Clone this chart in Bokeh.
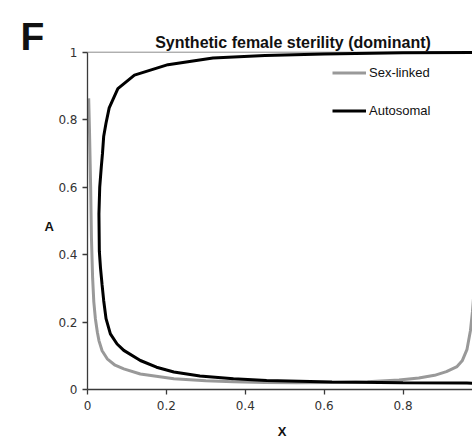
from bokeh.plotting import figure
from bokeh.models import Range1d, FixedTicker, Label, Legend, LegendItem
from bokeh.embed import file_html
from bokeh.resources import INLINE

# ---- data ----
sex_x = [0.003, 0.005, 0.008, 0.010, 0.013, 0.016, 0.020, 0.025, 0.029, 0.037,
         0.050, 0.070, 0.092, 0.134, 0.219, 0.300, 0.370, 0.450, 0.530, 0.620,
         0.710, 0.790, 0.840, 0.880, 0.910, 0.937, 0.950, 0.962, 0.971, 0.976,
         0.980, 0.985, 0.990, 0.994, 0.997, 0.999]
sex_y = [0.863, 0.770, 0.600, 0.450, 0.330, 0.260, 0.210, 0.170, 0.145, 0.115,
         0.091, 0.072, 0.061, 0.046, 0.032, 0.026, 0.023, 0.021, 0.020, 0.021,
         0.023, 0.028, 0.034, 0.042, 0.053, 0.068, 0.085, 0.118, 0.175, 0.230,
         0.290, 0.370, 0.480, 0.620, 0.760, 0.863]

auto_x = [1.000, 0.962, 0.800, 0.620, 0.454, 0.370, 0.285, 0.219, 0.175, 0.134,
          0.092, 0.075, 0.058, 0.047, 0.041, 0.037, 0.033, 0.030, 0.029, 0.031,
          0.035, 0.038, 0.041, 0.047, 0.055, 0.077, 0.119, 0.204, 0.318, 0.450,
          0.600, 0.800, 1.000]
auto_y = [0.018, 0.019, 0.020, 0.022, 0.027, 0.032, 0.040, 0.052, 0.066, 0.086,
          0.116, 0.135, 0.165, 0.210, 0.264, 0.310, 0.360, 0.410, 0.520, 0.600,
          0.660, 0.700, 0.750, 0.790, 0.835, 0.892, 0.932, 0.963, 0.983, 0.990,
          0.995, 0.998, 0.999]

x_ticks = [0, 0.2, 0.4, 0.6, 0.8, 1]
x_tick_labels = ["0", "0.2", "0.4", "0.6", "0.8", "1"]
y_ticks = [0, 0.2, 0.4, 0.6, 0.8, 1]
y_tick_labels = ["0", "0.2", "0.4", "0.6", "0.8", "1"]

title_text = "Synthetic female sterility (dominant)"
panel_letter = "F"
x_label = "X"
y_label = "A"
series_names = ["Sex-linked", "Autosomal"]

# ---- layout: the frame covers the whole canvas, axes pinned at 0 ----
W, H = 472, 438
ox, oy = 87, 389          # pixel position of the origin (0, 0)
px_per_x = 394.4
px_per_y = 337.3

p = figure(width=W, height=H, output_backend="svg", toolbar_location=None,
           x_range=Range1d(-ox / px_per_x, (W - ox) / px_per_x),
           y_range=Range1d(-(H - oy) / px_per_y, oy / px_per_y),
           min_border_left=0, min_border_right=0,
           min_border_top=0, min_border_bottom=0)
p.outline_line_color = None
p.xgrid.visible = False
p.ygrid.visible = False
p.background_fill_color = "white"
p.border_fill_color = "white"

axis_col = "#3a3a3a"
for ax, ticks, labels in ((p.xaxis[0], x_ticks, x_tick_labels),
                          (p.yaxis[0], y_ticks, y_tick_labels)):
    ax.fixed_location = 0
    ax.bounds = (ticks[0], ticks[-1])
    ax.ticker = FixedTicker(ticks=ticks)
    ax.major_label_overrides = {t: l for t, l in zip(ticks, labels)}
    ax.minor_tick_line_color = None
    ax.axis_line_color = axis_col
    ax.axis_line_width = 1.3
    ax.major_tick_line_color = axis_col
    ax.major_tick_line_width = 1.3
    ax.major_tick_in = 0
    ax.major_tick_out = 5
    ax.major_label_text_font = "DejaVu Sans"
    ax.major_label_text_font_size = "12px"
    ax.major_label_text_color = "#333333"
p.xaxis.major_label_standoff = 6
p.yaxis.major_label_standoff = 5

# top reference line at A = 1
p.segment(x0=[x_ticks[0]], y0=[y_ticks[-1]], x1=[x_ticks[-1]], y1=[y_ticks[-1]],
          line_color="#8c8c8c", line_width=1)

r_sex = p.line(sex_x, sex_y, line_color="#999999", line_width=3)
r_auto = p.line(auto_x, auto_y, line_color="#000000", line_width=3)

legend = Legend(items=[LegendItem(label=series_names[0], renderers=[r_sex]),
                       LegendItem(label=series_names[1], renderers=[r_auto])],
                location=(332, 310), orientation="vertical",
                glyph_width=34, glyph_height=35, spacing=3, label_standoff=3,
                padding=0, margin=0, border_line_color=None,
                background_fill_alpha=0,
                label_text_font="Liberation Sans", label_text_font_size="13px",
                label_text_color="#111111")
p.add_layout(legend)

def dx(px):
    return (px - ox) / px_per_x

def dy(py):
    return (oy - py) / px_per_y

def lab(px, py, text, size, align="center"):
    p.add_layout(Label(x=dx(px), y=dy(py), text=text, text_align=align,
                       text_baseline="alphabetic", text_font="Liberation Sans",
                       text_font_style="bold", text_font_size=size,
                       text_color="#111111"))

lab(292.5, 42, title_text, "16px")
lab(20, 35.7, panel_letter, "39px", "left")
lab(48.7, 226, y_label, "13px")
lab(281.7, 431.2, x_label, "13px")

open("out.html", "w").write(file_html(p, INLINE))
